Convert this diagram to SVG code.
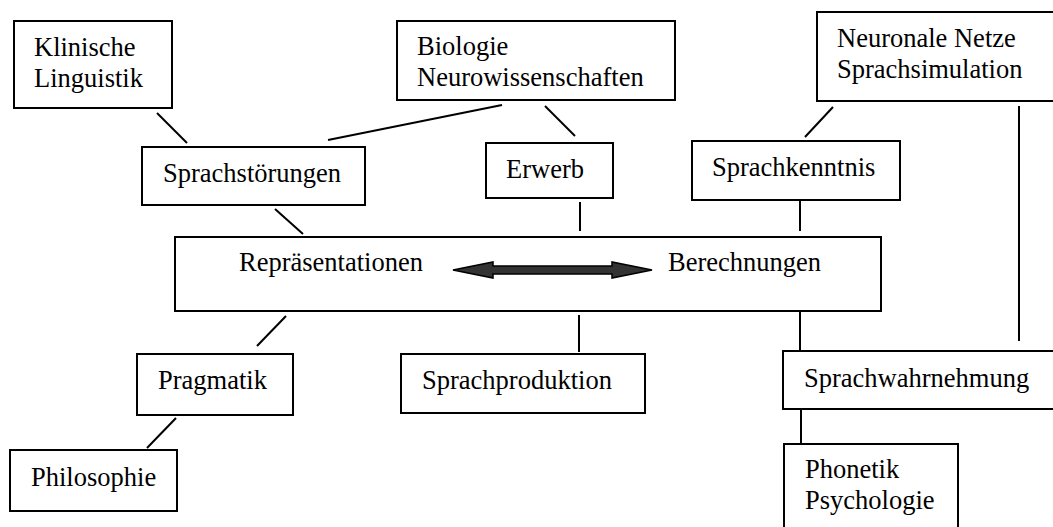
<svg xmlns="http://www.w3.org/2000/svg" width="1053" height="527" viewBox="0 0 1053 527">
<style>
.box{fill:#fff;stroke:#000;stroke-width:2}
.t{font-family:"Liberation Serif","Times New Roman",serif;font-size:26.5px;fill:#000}
.c line{stroke:#000;stroke-width:2}
</style>
<rect width="1053" height="527" fill="#fff"/>
<g id="klinische"><rect class="box" x="14" y="21" width="158" height="87"/><text class="t" x="34" y="56">Klinische</text><text class="t" x="34" y="87">Linguistik</text></g>
<g id="biologie"><rect class="box" x="397" y="21" width="278" height="79"/><text class="t" x="417" y="55">Biologie</text><text class="t" x="417" y="86">Neurowissenschaften</text></g>
<g id="neuronale"><rect class="box" x="817" y="12" width="250" height="89"/><text class="t" x="837" y="47">Neuronale Netze</text><text class="t" x="837" y="78">Sprachsimulation</text></g>
<g id="sprachstoerungen"><rect class="box" x="142" y="147" width="223" height="58"/><text class="t" x="163" y="182">Sprachstörungen</text></g>
<g id="erwerb"><rect class="box" x="486" y="143" width="127" height="55"/><text class="t" x="506" y="178">Erwerb</text></g>
<g id="sprachkenntnis"><rect class="box" x="692" y="141" width="208" height="59"/><text class="t" x="712" y="176">Sprachkenntnis</text></g>
<g id="main"><rect class="box" x="175" y="237" width="706" height="74"/><text class="t" x="239" y="271">Repräsentationen</text><text class="t" x="668" y="271">Berechnungen</text>
<path d="M453,270 L493,262 L493,266 L612,266 L612,262 L652,270 L612,278 L612,274 L493,274 L493,278 Z" fill="#333" stroke="#000" stroke-width="1.5" stroke-linejoin="miter"/></g>
<g id="pragmatik"><rect class="box" x="137" y="354" width="156" height="61"/><text class="t" x="158" y="389">Pragmatik</text></g>
<g id="philosophie"><rect class="box" x="10" y="450" width="167" height="61"/><text class="t" x="31" y="486">Philosophie</text></g>
<g id="sprachproduktion"><rect class="box" x="401" y="354" width="244" height="59"/><text class="t" x="422" y="389">Sprachproduktion</text></g>
<g id="sprachwahrnehmung"><rect class="box" x="783" y="351" width="284" height="58"/><text class="t" x="804" y="387">Sprachwahrnehmung</text></g>
<g id="phonetik"><rect class="box" x="784" y="444" width="174" height="100"/><text class="t" x="805" y="478">Phonetik</text><text class="t" x="805" y="509">Psychologie</text></g>
<g id="connectors" class="c">
<line x1="157" y1="113" x2="187" y2="143"/>
<line x1="502" y1="105" x2="328" y2="140"/>
<line x1="545" y1="106" x2="575" y2="136"/>
<line x1="833" y1="107" x2="805" y2="137"/>
<line x1="275" y1="209" x2="303" y2="234"/>
<line x1="580" y1="202" x2="580" y2="231"/>
<line x1="800" y1="201" x2="800" y2="231"/>
<line x1="1019" y1="106" x2="1019" y2="341"/>
<line x1="286" y1="316" x2="257" y2="346"/>
<line x1="176" y1="418" x2="147" y2="448"/>
<line x1="579" y1="315" x2="579" y2="352"/>
<line x1="800" y1="311" x2="800" y2="350"/>
<line x1="801" y1="409" x2="801" y2="443"/>
</g>
</svg>
